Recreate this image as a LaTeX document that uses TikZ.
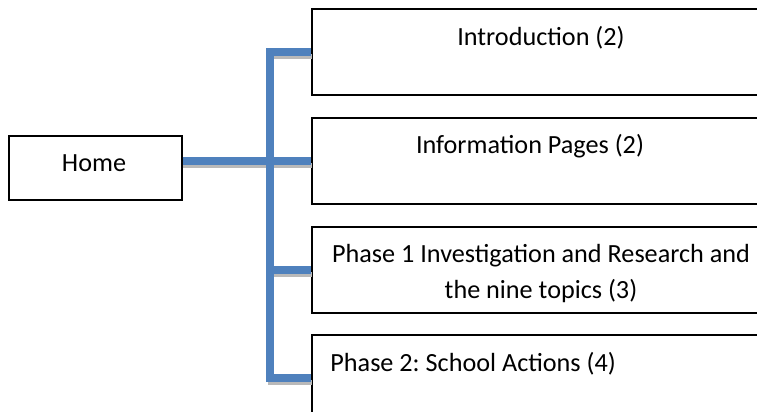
\documentclass[tikz,border=0pt]{standalone}
\usepackage{fontspec}
\setmainfont{Carlito}
\usetikzlibrary{positioning}
\definecolor{linkblue}{RGB}{79, 129, 189}
\definecolor{shade}{RGB}{185, 185, 185}
\frenchspacing

\begin{document}
\begin{tikzpicture}[x=0.5pt, y=-0.5pt, font=\fontsize{13.1}{18}\selectfont,
    page/.style={rectangle, draw, line width=1pt, inner sep=0pt},
    lbl/.style={inner sep=0pt, anchor=base},
    link/.style={draw=linkblue, line width=3.8pt, line join=miter},
    linkshade/.style={draw=shade, line width=2.4pt, line join=miter, transform canvas={xshift=0.4pt, yshift=-2.4pt}}]
    \useasboundingbox (0,0) rectangle (757,412);
    \clip (0,0) rectangle (757,412);
    % pages
    \node [page, minimum width=86.5pt, minimum height=32pt] (home) at (95,168) {};
    \node [page, minimum width=228pt, minimum height=43pt] (intro) at (540,52) {};
    \node [page, minimum width=228pt, minimum height=43pt] (info) at (540,161) {};
    \node [page, minimum width=228pt, minimum height=43pt] (phase1) at (540,270) {};
    \node [page, minimum width=228pt, minimum height=43pt] (phase2) at (540,378) {};
    \node [lbl] (hometxt) at (94,171) {Home};
    \node [lbl] (introtxt) at (541,46) {Introduction (2)};
    \node [lbl] (infotxt) at (530,154) {Information Pages (2)};
    \node [lbl, align=center] (phase1txt) at (541,298) {Phase 1 Investigation and Research and\\the nine topics (3)};
    \node [lbl, anchor=base west] (phase2txt) at (330,371) {Phase 2: School Actions (4)};
    \coordinate (trunk) at (270,0);
    % links, shadow first
    \foreach \s in {linkshade, link} {
        \draw [\s] (intro.west) -- (intro.west -| trunk) -- (phase2.west -| trunk) -- (phase2.west);
        \draw [\s] (home.east |- info.west) -- (info.west);
        \draw [\s] (phase1.west -| trunk) -- (phase1.west);
    }
\end{tikzpicture}
\end{document}
